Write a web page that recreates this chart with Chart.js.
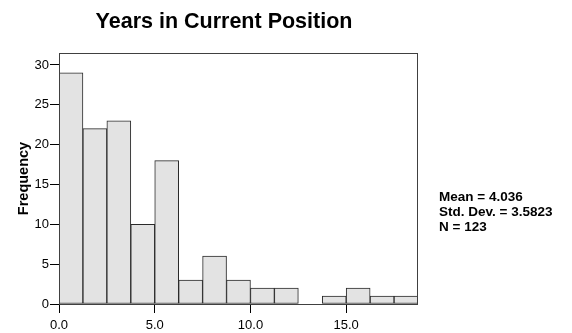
<!DOCTYPE html>
<html>
<head>
<meta charset="utf-8">
<script src="https://cdn.jsdelivr.net/npm/chart.js@4.4.0/dist/chart.umd.min.js"></script>
<style>
  html, body { margin: 0; padding: 0; background: #fff; }
  canvas { display: block; }
</style>
</head>
<body>
<canvas id="histChart" width="572" height="333"></canvas>
<script>
const chartTitle = 'Years in Current Position';
const binStarts = [0, 1.25, 2.5, 3.75, 5, 6.25, 7.5, 8.75, 10, 11.25, 12.5, 13.75, 15, 16.25, 17.5];
const binWidth = 1.25;
const counts = [29, 22, 23, 10, 18, 3, 6, 3, 2, 2, 0, 1, 2, 1, 1];
const xTicks = [0, 5, 10, 15];
const yTicks = [0, 5, 10, 15, 20, 25, 30];
const statsLines = ['Mean = 4.036', 'Std. Dev. = 3.5823', 'N = 123'];

const FONT = 'Liberation Sans, Arial, Helvetica, sans-serif';

// frame around the plot, title and the stats block on the right
const extras = {
    id: 'extras',
    afterDraw(chart) {
        const {ctx, chartArea: a} = chart;
        ctx.save();
        ctx.strokeStyle = '#404040';
        ctx.lineWidth = 1;
        ctx.strokeRect(a.left + 0.5, a.top + 0.5, a.right - a.left - 1, a.bottom - a.top);

        ctx.fillStyle = '#000';
        ctx.textAlign = 'center';
        ctx.textBaseline = 'alphabetic';
        ctx.font = 'bold 21.5px ' + FONT;
        ctx.fillText(chartTitle, 224, 28);

        ctx.textAlign = 'left';
        ctx.font = 'bold 13.5px ' + FONT;
        statsLines.forEach((s, i) => ctx.fillText(s, 439, 201 + i * 15));
        ctx.restore();
    }
};

const ctx = document.getElementById('histChart').getContext('2d');
new Chart(ctx, {
    type: 'bar',
    data: {
        datasets: [{
            data: binStarts.map((s, i) => ({x: s + binWidth / 2, y: counts[i]})),
            backgroundColor: '#e3e3e3',
            borderColor: '#2a2a2a',
            borderWidth: 1,
            borderSkipped: false,
            barPercentage: 1,
            categoryPercentage: 1
        }]
    },
    options: {
        responsive: false,
        animation: false,
        devicePixelRatio: 1,
        layout: {padding: {left: 0, right: 154, top: 53, bottom: 0}},
        plugins: {legend: {display: false}, tooltip: {enabled: false}},
        scales: {
            x: {
                type: 'linear',
                min: 0,
                max: binStarts[binStarts.length - 1] + binWidth,
                offset: false,
                grid: {offset: false, drawOnChartArea: false, tickLength: 9, color: '#000'},
                border: {display: false},
                afterBuildTicks: s => { s.ticks = xTicks.map(v => ({value: v})); },
                afterFit: s => { s.height = 29; },
                ticks: {
                    maxRotation: 0,
                    padding: 5,
                    color: '#000',
                    font: {family: FONT, size: 13},
                    callback: v => v.toFixed(1)
                }
            },
            y: {
                min: 0,
                max: 31.5,
                grid: {drawOnChartArea: false, tickLength: 9, color: '#000'},
                border: {display: false},
                afterBuildTicks: s => { s.ticks = yTicks.map(v => ({value: v})); },
                afterFit: s => { s.width = 59; },
                ticks: {
                    padding: 1,
                    color: '#000',
                    font: {family: FONT, size: 13}
                },
                title: {
                    display: true,
                    text: 'Frequency',
                    color: '#000',
                    font: {family: FONT, size: 14.5, weight: 'bold'},
                    padding: {top: 15, bottom: 0}
                }
            }
        }
    },
    plugins: [extras]
});
</script>
</body>
</html>
